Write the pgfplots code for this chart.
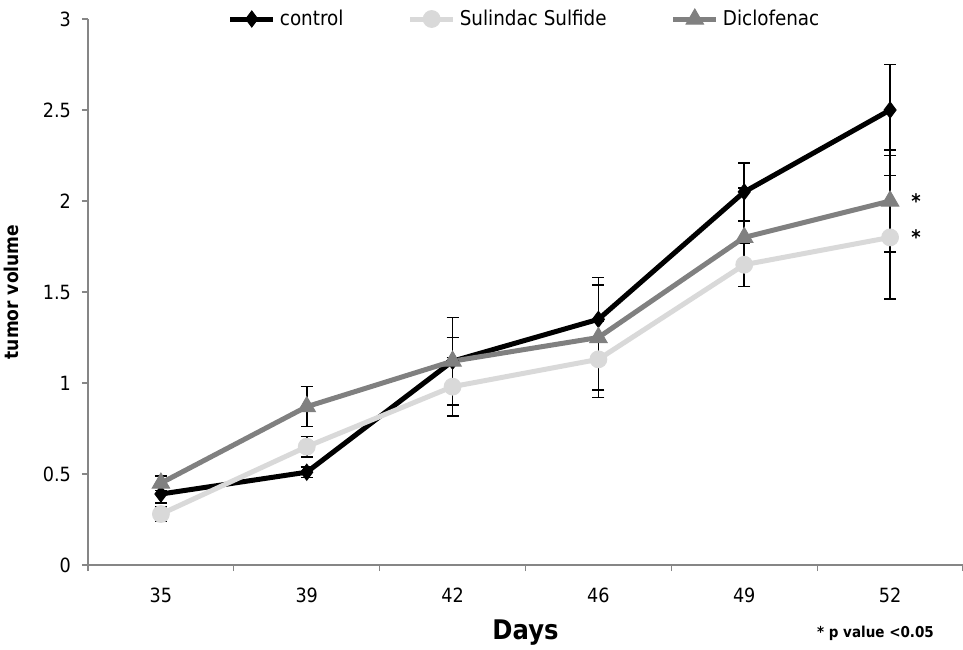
\documentclass[border=0pt]{standalone}
\usepackage{pgfplots}
\pgfplotsset{compat=1.18}
\usepackage{fontspec}
\setmainfont{DejaVu Sans}[FakeStretch=0.9]
\definecolor{ctrl}{HTML}{000000}
\definecolor{sul}{HTML}{D9D9D9}
\definecolor{dic}{HTML}{808080}
\definecolor{axgray}{HTML}{868686}
\begin{document}
\begin{tikzpicture}
\useasboundingbox (-44pt,-42pt) rectangle (437.5pt,282.5pt);
\begin{axis}[
  scale only axis,
  width=437.5pt, height=273pt,
  at={(0,0)}, anchor=south west,
  xmin=-0.5, xmax=5.5, ymin=0, ymax=3,
  axis lines*=left,
  axis line style={axgray, line width=0.6pt},
  xtick={0,1,2,3,4,5},
  xticklabels={35,39,42,46,49,52},
  major x tick style={draw=none},
  minor xtick={-0.5,0.5,1.5,2.5,3.5,4.5,5.5},
  minor tick length=3pt,
  ytick={0,0.5,1,1.5,2,2.5,3},
  major tick length=3pt,
  tick align=outside,
  tick style={axgray, line width=0.6pt},
  ytick style={axgray},
  /pgf/number format/assume math mode=true,
  ticklabel style={font=\fontsize{9.8pt}{11pt}\selectfont, text=black},
  xticklabel style={yshift=-5pt},
  yticklabel style={xshift=-2pt},
  xlabel={\bfseries Days},
  xlabel style={font=\fontsize{13.5pt}{15pt}\selectfont, at={(axis description cs:0.5,0)}, anchor=base, yshift=-37pt},
  ylabel={\bfseries tumor volume},
  ylabel style={font=\fontsize{9.5pt}{11pt}\selectfont, at={(axis description cs:0,0.5)}, anchor=south, yshift=31pt},
  legend columns=3,
  legend style={at={(0.5,1)}, anchor=center, draw=none, fill=none,
    font=\fontsize{10.2pt}{12pt}\selectfont,
    /tikz/every even column/.append style={column sep=30pt}},
  legend image code/.code={
    \draw[mark repeat=2,mark phase=2,#1] plot coordinates {(0cm,0cm) (0.38cm,0cm) (0.76cm,0cm)};
  },
  error bars/error bar style={black, line width=0.8pt, solid},
  error bars/error mark options={rotate=90, mark size=3pt, black, line width=0.8pt},
  clip=false,
]
\addplot[ctrl, line width=2.5pt, mark=diamond*, mark size=4pt, mark options={solid, fill=ctrl, line width=0.5pt},
  error bars/.cd, y dir=both, y explicit]
  coordinates {(0,0.39) +- (0,0.05) (1,0.51) +- (0,0.03) (2,1.12) +- (0,0.24) (3,1.35) +- (0,0.23) (4,2.05) +- (0,0.16) (5,2.50) +- (0,0.25)};
\addlegendentry{control}
\addplot[sul, line width=2.5pt, mark=*, mark size=4.2pt, mark options={solid, fill=sul, draw=sul, line width=0.5pt},
  error bars/.cd, y dir=both, y explicit]
  coordinates {(0,0.28) +- (0,0.04) (1,0.65) +- (0,0.055) (2,0.98) +- (0,0.16) (3,1.13) +- (0,0.21) (4,1.65) +- (0,0.12) (5,1.80) +- (0,0.34)};
\addlegendentry{Sulindac Sulfide}
\addplot[dic, line width=2.5pt, mark=triangle*, mark size=5pt, mark options={solid, fill=dic, draw=dic, line width=0.5pt},
  error bars/.cd, y dir=both, y explicit]
  coordinates {(0,0.45) +- (0,0.04) (1,0.87) +- (0,0.11) (2,1.12) +- (0,0.13) (3,1.25) +- (0,0.29) (4,1.80) +- (0,0.27) (5,2.00) +- (0,0.28)};
\addlegendentry{Diclofenac}
\node[font=\bfseries\fontsize{10pt}{12pt}\selectfont] at ([xshift=13pt]axis cs:5,2.0) {*};
\node[font=\bfseries\fontsize{10pt}{12pt}\selectfont] at ([xshift=13pt]axis cs:5,1.8) {*};
\node[font=\bfseries\fontsize{7.5pt}{9pt}\selectfont, anchor=base] at ([yshift=-36pt]axis description cs:0.90,0) {* p value <0.05};
\end{axis}
\end{tikzpicture}
\end{document}
